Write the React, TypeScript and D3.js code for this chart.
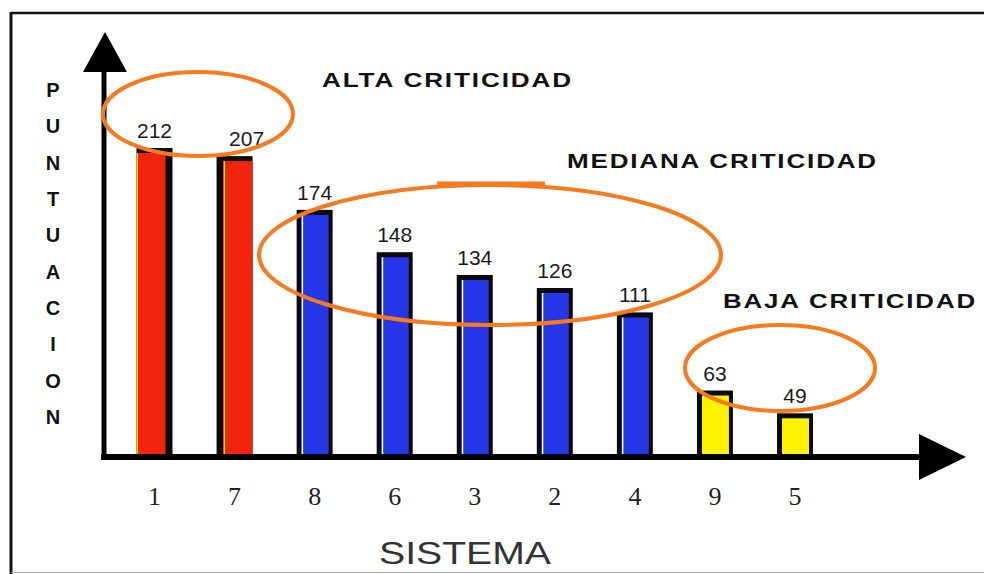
import React from "react";
import * as d3 from "d3";

// ---- data ----
const categories = ["1", "7", "8", "6", "3", "2", "4", "9", "5"];
const scores = [212, 207, 174, 148, 134, 126, 111, 63, 49];
const levels = ["alta", "alta", "mediana", "mediana", "mediana", "mediana", "mediana", "baja", "baja"];
const groupNames = ["alta", "mediana", "baja"];
const groupLabels = ["ALTA CRITICIDAD", "MEDIANA CRITICIDAD", "BAJA CRITICIDAD"];
const yTitle = "PUNTUACION";
const xTitle = "SISTEMA";

const W = 984;
const H = 574;

const levelColor: Record<string, string> = {
  alta: "#f2230f",
  mediana: "#2436e6",
  baja: "#fff200",
};

export default function App() {
  const baseline = 454;
  const x = d3.scalePoint<string>().domain(categories).range([154.5, 795]);
  const y = d3.scaleLinear().domain([24, 212]).range([baseline, 148]);
  const bw = 36;
  const orange = "#f77a1c";

  // annotation geometry (hand drawn ellipses of the reference)
  const groupAnno: Record<string, { cx: number; cy: number; rx: number; ry: number; tx: number; ty: number; tl: number }> = {
    alta: { cx: 198, cy: 114, rx: 95, ry: 42, tx: 322, ty: 87, tl: 251 },
    mediana: { cx: 490, cy: 255, rx: 231, ry: 70, tx: 567, ty: 168, tl: 311 },
    baja: { cx: 780, cy: 368, rx: 95, ry: 43, tx: 723, ty: 308, tl: 254 },
  };

  const letters = yTitle.split("");
  const letterY = d3.scalePoint<number>().domain(d3.range(letters.length)).range([97, 424]);

  return (
    <svg
      width={W}
      height={H}
      viewBox={`0 0 ${W} ${H}`}
      style={{ position: "absolute", left: 0, top: 0, display: "block", background: "#fff" }}
    >
      {/* frame */}
      <line x1={11} y1={13} x2={W} y2={13} stroke="#111" strokeWidth={2.5} />
      <line x1={11} y1={12} x2={11} y2={H} stroke="#111" strokeWidth={3} />
      <line x1={11} y1={572.5} x2={W} y2={572.5} stroke="#aaa" strokeWidth={1} />

      {/* bars */}
      {categories.map((c, i) => {
        const cx = x(c)!;
        const x0 = cx - bw / 2;
        const x1 = cx + bw / 2;
        const top = y(scores[i]);
        const lvl = levels[i];
        const fill = levelColor[lvl];
        let fx0 = x0 + 5;
        let fx1 = x1 - 4;
        const edge = lvl === "mediana" ? "#ffffff" : lvl === "alta" ? "#ffe000" : null;
        if (lvl === "alta" && i === 0) {
          fx0 = x0;
          fx1 = x1 - 7;
        } else if (lvl === "alta") {
          fx0 = x0 + 7;
          fx1 = x1;
        }
        return (
          <g key={c}>
            <rect x={x0} y={top} width={bw} height={baseline - top} fill="#0a0a0a" />
            <rect x={fx0} y={top + 5} width={fx1 - fx0} height={baseline - top - 5} fill={fill} />
            {edge && <rect x={fx0} y={top + 5} width={1.5} height={baseline - top - 5} fill={edge} />}
          </g>
        );
      })}

      {/* value labels */}
      {categories.map((c, i) => (
        <text
          key={"v" + c}
          x={x(c)! + (i === 1 ? 12 : 0)}
          y={y(scores[i]) - 10}
          textAnchor="middle"
          fontFamily="'Liberation Sans', Arial, sans-serif"
          fontSize={21}
          fill="#1a1a1a"
        >
          {scores[i]}
        </text>
      ))}

      {/* y axis */}
      <line x1={104} y1={60} x2={104} y2={460} stroke="#000" strokeWidth={5} />
      <polygon points="105,32 83,72 127,72" fill="#000" />
      {/* x axis */}
      <line x1={101} y1={457} x2={925} y2={457} stroke="#000" strokeWidth={6} />
      <polygon points="966,457 919,434 919,480" fill="#000" />

      {/* x tick labels */}
      {categories.map((c) => (
        <text
          key={"t" + c}
          x={x(c)!}
          y={505}
          textAnchor="middle"
          fontFamily="'Liberation Serif', 'Times New Roman', serif"
          fontSize={26}
          fill="#222"
        >
          {c}
        </text>
      ))}

      {/* axis titles */}
      {letters.map((l, i) => (
        <text
          key={"l" + i}
          x={53}
          y={letterY(i)!}
          textAnchor="middle"
          fontFamily="'Liberation Sans', Arial, sans-serif"
          fontWeight="bold"
          fontSize={20}
          fill="#111"
        >
          {l}
        </text>
      ))}
      <text
        x={465}
        y={564}
        textAnchor="middle"
        fontFamily="'Liberation Sans', Arial, sans-serif"
        fontSize={32}
        fill="#333"
        textLength={172}
        lengthAdjust="spacingAndGlyphs"
      >
        {xTitle}
      </text>

      {/* criticality annotations */}
      {groupNames.map((g, i) => {
        const a = groupAnno[g];
        return (
          <g key={g}>
            <ellipse cx={a.cx} cy={a.cy} rx={a.rx} ry={a.ry} fill="none" stroke={orange} strokeWidth={4} />
            <text
              x={a.tx}
              y={a.ty}
              fontFamily="'Liberation Sans', Arial, sans-serif"
              fontWeight="bold"
              fontSize={21}
              letterSpacing={1.5}
              fill="#111"
              textLength={a.tl}
              lengthAdjust="spacingAndGlyphs"
            >
              {groupLabels[i]}
            </text>
          </g>
        );
      })}
      <line x1={437} y1={184} x2={545} y2={184} stroke={orange} strokeWidth={5} />
    </svg>
  );
}
